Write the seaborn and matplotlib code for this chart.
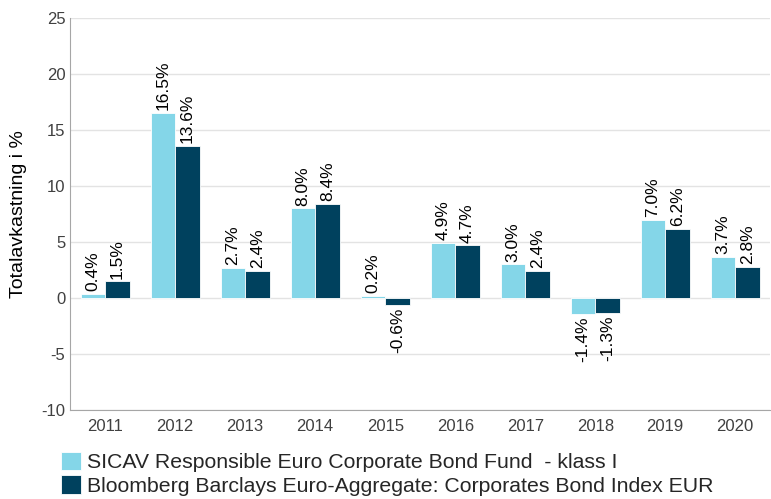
import matplotlib
matplotlib.use('Agg')
import matplotlib.pyplot as plt
import seaborn as sns
import pandas as pd

# data
years = ['2011', '2012', '2013', '2014', '2015', '2016', '2017', '2018', '2019', '2020']
fund = [0.4, 16.5, 2.7, 8.0, 0.2, 4.9, 3.0, -1.4, 7.0, 3.7]
index = [1.5, 13.6, 2.4, 8.4, -0.6, 4.7, 2.4, -1.3, 6.2, 2.8]
series = ['SICAV Responsible Euro Corporate Bond Fund  - klass I',
          'Bloomberg Barclays Euro-Aggregate: Corporates Bond Index EUR']
colors = ['#84D6E8', '#00415E']

df = pd.DataFrame({
    'year': years * 2,
    'value': fund + index,
    'series': [series[0]] * len(years) + [series[1]] * len(years),
})

sns.set_style('white')
plt.rcParams['font.family'] = ['Liberation Sans', 'DejaVu Sans']
plt.rcParams['axes.unicode_minus'] = False

fig = plt.figure(figsize=(7.71, 4.99), dpi=100)
ax = fig.add_axes([0.091, 0.178, 0.908, 0.786])

sns.barplot(data=df, x='year', y='value', hue='series', palette=colors,
            saturation=1, width=0.7, edgecolor='white', linewidth=0.6,
            ax=ax, legend=True)

for cont in ax.containers:
    ax.bar_label(cont, labels=[f'{v:.1f}%' for v in cont.datavalues],
                 rotation=90, padding=2, fontsize=12.5, color='black')

ax.set_ylim(-10, 25)
ax.set_xlim(-0.5, 9.5)
ax.set_yticks(range(-10, 30, 5))
ax.yaxis.grid(True, color='#e3e3e3', linewidth=1)
ax.set_axisbelow(True)
ax.set_xlabel('')
ax.set_ylabel('Totalavkastning i %', fontsize=14, color='black', labelpad=10)
ax.tick_params(axis='both', labelsize=12, colors='#404040', length=0)
ax.tick_params(axis='x', pad=6)
for s in ['top', 'right']:
    ax.spines[s].set_visible(False)
ax.spines['left'].set_color('#a6a6a6')
ax.spines['bottom'].set_color('#a6a6a6')

handles, labels = ax.get_legend_handles_labels()
ax.get_legend().remove()
fig.legend(handles, labels, loc='upper left', bbox_to_anchor=(0.079, 0.095),
           frameon=False, fontsize=15.3, handlelength=0.95, handleheight=0.95,
           handletextpad=0.3, labelspacing=0.15, borderaxespad=0, borderpad=0)

fig.savefig('out.png', dpi=100)
